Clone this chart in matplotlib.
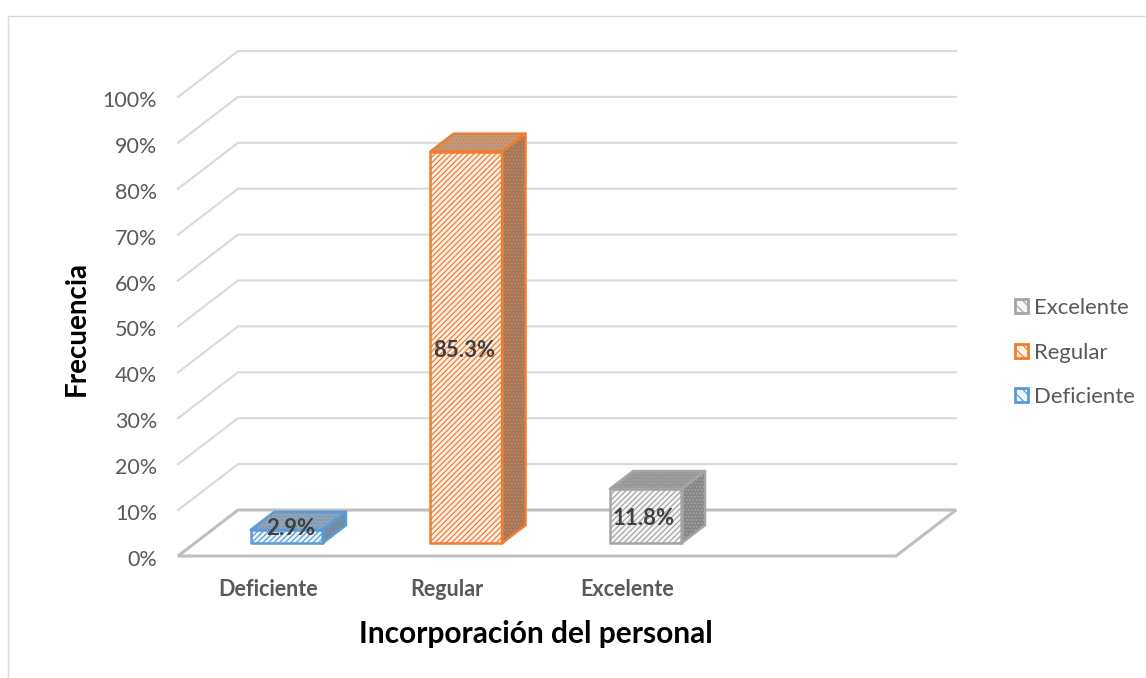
import matplotlib
matplotlib.use('Agg')
import matplotlib.pyplot as plt
from matplotlib.patches import Polygon, Patch

plt.rcParams['font.family'] = ['Lato', 'DejaVu Sans']
plt.rcParams['hatch.linewidth'] = 0.9

categories = ['Deficiente', 'Regular', 'Excelente']
values = [2.9, 85.3, 11.8]
value_labels = ['2.9%', '85.3%', '11.8%']
colors = ['#5b9bd5', '#ed7d31', '#a5a5a5']
front_faces = ['#eef5fb', '#fff1e8', '#f6f6f6']
top_faces = ['#98a3ae', '#b89c8a', '#979797']
side_faces = ['#7d8894', '#97796a', '#858585']
ticks = list(range(0, 101, 10))
n_slots = 4

# the picture's fake 3d box, in pixels
x0, x1 = 178, 896
y0 = 556
y_per_pct = 4.59
dx_depth, dy_depth = 60, -46
bar_front, bar_back = 0.28, 0.67
bar_width = 0.40
bar_nudge = 0.012


def project(slot, depth, pct):
    x = x0 + (x1 - x0) * slot / n_slots + dx_depth * depth
    y = y0 - y_per_pct * pct + dy_depth * depth
    return x, y


fig = plt.figure(figsize=(11.46, 6.78), dpi=100)
ax = fig.add_axes([0, 0, 1, 1])
ax.set_xlim(0, 1146)
ax.set_ylim(678, 0)
ax.axis('off')

# chart border
ax.plot([8, 8, 1146], [678, 16, 16], color='#d9d9d9', lw=1)

# walls
for t in ticks[1:]:
    ax.plot(*zip(project(0, 0, t), project(0, 1, t), project(n_slots, 1, t)),
            color='#d9d9d9', lw=1.5, zorder=1)
for t in ticks:
    ax.text(157, project(0, 0, t)[1] + 4, f'{t}%', ha='right', va='center',
            fontsize=15.5, color='#595959')

# floor
floor = [project(0, 0, 0), project(n_slots, 0, 0), project(n_slots, 1, 0), project(0, 1, 0)]
ax.add_patch(Polygon(floor, closed=True, fill=False, ec='#bfbfbf', lw=2.2, zorder=2))


def face(points, fc, color, hatch):
    ax.add_patch(Polygon(points, closed=True, fc=fc, ec=color, hatch=hatch, lw=0, zorder=3))
    ax.add_patch(Polygon(points, closed=True, fill=False, ec=color, lw=1.8, zorder=4,
                         joinstyle='round'))


label_shift = [(4, -8), (-2, 3), (-2, 2)]
for i, v in enumerate(values):
    a = i + 0.5 - bar_width / 2 + bar_nudge
    b = i + 0.5 + bar_width / 2 + bar_nudge
    front = [project(a, bar_front, 0), project(b, bar_front, 0),
             project(b, bar_front, v), project(a, bar_front, v)]
    top = [project(a, bar_front, v), project(b, bar_front, v),
           project(b, bar_back, v), project(a, bar_back, v)]
    side = [project(b, bar_front, 0), project(b, bar_back, 0),
            project(b, bar_back, v), project(b, bar_front, v)]
    face(side, side_faces[i], colors[i], '.....')
    face(top, top_faces[i], colors[i], '.....')
    face(front, front_faces[i], colors[i], '//////')
    cx, cy = project(i + 0.5 + bar_nudge, bar_front, v / 2)
    ax.text(cx + label_shift[i][0], cy + label_shift[i][1], value_labels[i],
            ha='center', va='center', fontsize=15.9, fontweight='bold',
            color='#404040', zorder=5)
    ax.text(project(i + 0.5, 0, 0)[0], 590, categories[i], ha='center', va='center',
            fontsize=15.5, fontweight='bold', color='#595959')

ax.text(77, 329, 'Frecuencia', rotation=90, ha='center', va='center',
        fontsize=20, fontweight='bold', color='black')
ax.text(536, 634, 'Incorporación del personal', ha='center', va='center',
        fontsize=21.5, fontweight='bold', color='black')

handles = [Patch(fc=front_faces[i], ec=colors[i], hatch='\\\\\\', lw=2, label=categories[i])
           for i in [2, 1, 0]]
ax.legend(handles=handles, loc='center left', bbox_to_anchor=(1015 / 1146, 1 - 352.5 / 678),
          frameon=False, fontsize=15.9, labelcolor='#595959', handlelength=0.59,
          handleheight=0.59, handletextpad=0.27, labelspacing=1.1, borderpad=0, borderaxespad=0)

fig.savefig('out.png', dpi=100)
